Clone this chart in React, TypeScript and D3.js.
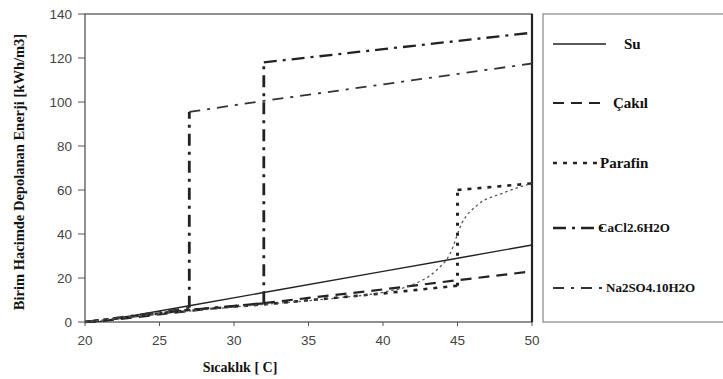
import React from "react";
import * as d3 from "d3";

type Pt = [number, number];

const xTicks = [20, 25, 30, 35, 40, 45, 50];
const yTicks = [0, 20, 40, 60, 80, 100, 120, 140];

const suData: Pt[] = [[20, 0], [21, 0.3], [27, 7.4], [32, 13.4], [40, 23], [45, 29], [50, 35]];
const cakilData: Pt[] = [[20, 0], [21, 0.3], [27, 5], [32, 8.6], [40, 14.8], [45, 19], [50, 23]];
const parafinData: Pt[] = [[20, 0], [27, 5.5], [32, 8], [40, 13], [45, 16.5], [45, 60], [50, 63]];
const cacl2Data: Pt[] = [[20, 0], [27, 5.5], [32, 8.5], [32, 118], [40, 124], [50, 131.5]];
const na2so4Data: Pt[] = [[20, 0], [27, 6.5], [27, 95.5], [32, 100.5], [40, 108], [50, 117.5]];
const sCurveData: Pt[] = [[20, 0], [27, 5], [32, 8], [37, 11], [40, 13.5], [42, 17], [43.5, 23], [44.5, 31], [45.3, 45], [46.3, 53], [48, 58.5], [50, 63]];

const legendLabels = ["Su", "Çakıl", "Parafin", "CaCl2.6H2O", "Na2SO4.10H2O"];

const W = 723;
const H = 379;
const left = 85;
const right = 532;
const top = 14;
const bottom = 322;

const x = d3.scaleLinear().domain([20, 50]).range([left, right]);
const y = d3.scaleLinear().domain([0, 140]).range([bottom, top]);
const line = d3.line<Pt>().x((d) => x(d[0])).y((d) => y(d[1]));
const smooth = d3.line<Pt>().x((d) => x(d[0])).y((d) => y(d[1])).curve(d3.curveMonotoneX);

const styles = [
  { w: 1.4, dash: "", color: "#222" },
  { w: 2.2, dash: "11,7", color: "#222" },
  { w: 2.6, dash: "4,6", color: "#222" },
  { w: 2.3, dash: "13,6,3,6", color: "#222" },
  { w: 1.8, dash: "11,7,3,7", color: "#333" },
];
const verticalStyle = { w: 2.8, dash: "12,6,3,6", color: "#222" };

const series = [suData, cakilData, parafinData, cacl2Data, na2so4Data];

function steps(s: Pt[]): [Pt, Pt][] {
  const out: [Pt, Pt][] = [];
  for (let i = 1; i < s.length; i++) if (s[i][0] === s[i - 1][0]) out.push([s[i - 1], s[i]]);
  return out;
}
function runs(s: Pt[]): Pt[][] {
  const out: Pt[][] = [];
  let cur: Pt[] = [s[0]];
  for (let i = 1; i < s.length; i++) {
    if (s[i][0] === s[i - 1][0]) {
      out.push(cur);
      cur = [s[i]];
    } else cur.push(s[i]);
  }
  out.push(cur);
  return out;
}

const legendY = [44, 103, 163, 228, 288];
const legendTextX = [624, 613, 600, 598, 606];
const serif = "Liberation Serif, Times New Roman, serif";
const sans = "Liberation Sans, Arial, sans-serif";

export default function App() {
  return (
    <svg width={W} height={H} style={{ position: "absolute", left: 0, top: 0, background: "#fff" }}>
      <rect x={0} y={0} width={W} height={H} fill="#fff" />
      <rect x={left} y={top} width={right - left} height={bottom - top} fill="none" stroke="#555" strokeWidth={1.3} />
      <line x1={right} x2={right} y1={top} y2={bottom} stroke="#222" strokeWidth={2.2} />
      {yTicks.map((t) => (
        <g key={"y" + t}>
          <line x1={left - 7} x2={left} y1={y(t)} y2={y(t)} stroke="#555" strokeWidth={1} />
          <text x={72} y={y(t)} dy="0.35em" textAnchor="end" style={{ fontFamily: sans }} fontSize={13.5} fill="#444">
            {t}
          </text>
        </g>
      ))}
      {xTicks.map((t) => (
        <g key={"x" + t}>
          <line x1={x(t)} x2={x(t)} y1={bottom} y2={bottom + 4} stroke="#555" strokeWidth={1} />
          <text x={x(t)} y={345} textAnchor="middle" style={{ fontFamily: sans }} fontSize={13.5} fill="#444">
            {t}
          </text>
        </g>
      ))}
      {series.map((s, i) => (
        <g key={"s" + i}>
          {runs(s).map((r, j) => (
            <path key={j} d={line(r) || ""} fill="none" stroke={styles[i].color} strokeWidth={styles[i].w} strokeDasharray={styles[i].dash} />
          ))}
          {steps(s).map((seg, j) => (
            <path
              key={"v" + j}
              d={line(seg) || ""}
              fill="none"
              stroke={i >= 3 ? verticalStyle.color : styles[i].color}
              strokeWidth={i >= 3 ? verticalStyle.w : 3}
              strokeDasharray={i >= 3 ? verticalStyle.dash : "3,7"}
            />
          ))}
        </g>
      ))}
      <path d={smooth(sCurveData) || ""} fill="none" stroke="#555" strokeWidth={1.3} strokeDasharray="2.5,3" />
      <text transform={`translate(24,${(top + bottom) / 2 + 4}) rotate(-90)`} textAnchor="middle" style={{ fontFamily: serif }} fontWeight="bold" fontSize={14.5} fill="#111">
        Birim Hacimde Depolanan Enerji [kWh/m3]
      </text>
      <text x={240} y={372} textAnchor="middle" style={{ fontFamily: serif }} fontWeight="bold" fontSize={14} fill="#111">
        Sıcaklık [ C]
      </text>
      <rect x={543} y={14} width={200} height={308} fill="#fff" stroke="#888" strokeWidth={1.2} />
      {legendLabels.map((lab, i) => (
        <g key={"l" + i}>
          <line x1={553} x2={i === 0 ? 606 : 604} y1={legendY[i]} y2={legendY[i]} stroke={styles[i].color} strokeWidth={styles[i].w} strokeDasharray={styles[i].dash} />
          <text x={legendTextX[i]} y={legendY[i]} dy="0.3em" style={{ fontFamily: serif }} fontWeight="bold" fontSize={i >= 3 ? 13 : 15} fill="#111">
            {lab}
          </text>
        </g>
      ))}
    </svg>
  );
}
